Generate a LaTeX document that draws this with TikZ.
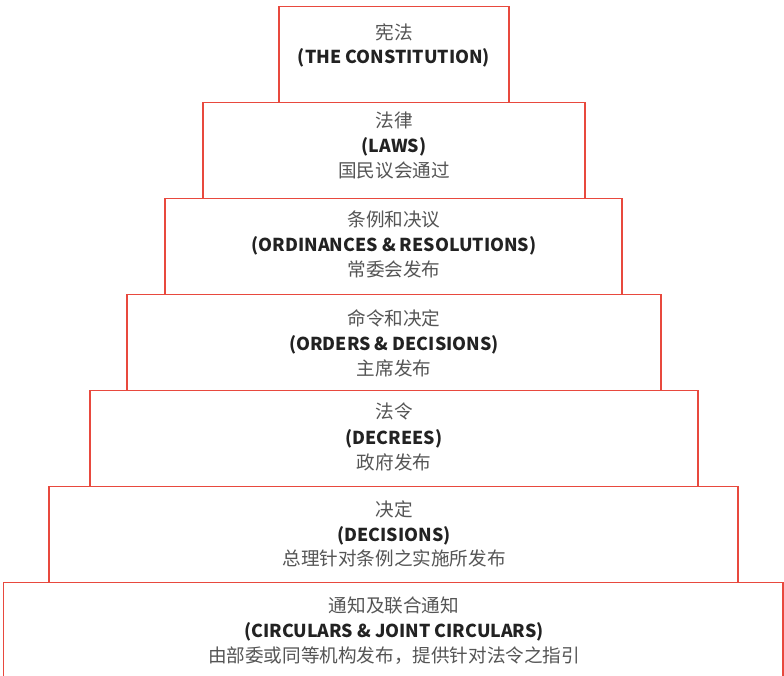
\documentclass[tikz,border=0pt]{standalone}
\usepackage{fontspec}
\setmainfont{Noto Sans CJK SC}
\definecolor{boxred}{HTML}{E8493E}
\definecolor{zhgray}{HTML}{555555}
\definecolor{engdark}{HTML}{222222}
\begin{document}
\begin{tikzpicture}[x=1pt,y=1pt,
  tier/.style={draw=boxred, line width=1.5pt, anchor=north west, inner sep=0pt, outer sep=0pt},
  zh/.style={anchor=base, inner sep=0pt, text=zhgray, font=\fontsize{18.6}{20}\selectfont},
  en/.style={anchor=base, inner sep=0pt, text=engdark, font=\fontsize{17.8}{20}\selectfont\bfseries}]
\useasboundingbox (0,0) rectangle (784,-676);
\clip (0,0) rectangle (784,-676);
\fill[white] (0,0) rectangle (784,-676);
% boxes (bottom to top so upper borders overlay)
\node[tier, minimum width=779.5pt, minimum height=110pt] (b7) at (3.5,-582.5) {};
\node[tier, minimum width=689pt, minimum height=96pt] (b6) at (49,-486.5) {};
\node[tier, minimum width=608pt, minimum height=96pt] (b5) at (90,-390.5) {};
\node[tier, minimum width=534pt, minimum height=96pt] (b4) at (127,-294.5) {};
\node[tier, minimum width=457pt, minimum height=96pt] (b3) at (165,-198.5) {};
\node[tier, minimum width=382pt, minimum height=96pt] (b2) at (203,-102.5) {};
\node[tier, minimum width=230pt, minimum height=96pt] (b1) at (279,-6.5) {};
% texts
\node[zh] (t1a) at (394,-39.5) {宪法};
\node[en] (t1b) at (394,-64) {(THE CONSTITUTION)};
\node[zh] (t2a) at (394,-127.5) {法律};
\node[en] (t2b) at (394,-152.5) {(LAWS)};
\node[zh] (t2c) at (394,-177.5) {国民议会通过};
\node[zh] (t3a) at (394,-226.5) {条例和决议};
\node[en] (t3b) at (394,-251.5) {(ORDINANCES \& RESOLUTIONS)};
\node[zh] (t3c) at (394,-276.5) {常委会发布};
\node[zh] (t4a) at (394,-325.5) {命令和决定};
\node[en] (t4b) at (394,-350.5) {(ORDERS \& DECISIONS)};
\node[zh] (t4c) at (394,-375.5) {主席发布};
\node[zh] (t5a) at (394,-418.5) {法令};
\node[en] (t5b) at (394,-444.5) {(DECREES)};
\node[zh] (t5c) at (394,-469.5) {政府发布};
\node[zh] (t6a) at (394,-516.5) {决定};
\node[en] (t6b) at (394,-541.5) {(DECISIONS)};
\node[zh] (t6c) at (394,-565.5) {总理针对条例之实施所发布};
\node[zh] (t7a) at (394,-612.5) {通知及联合通知};
\node[en] (t7b) at (394,-637.5) {(CIRCULARS \& JOINT CIRCULARS)};
\node[zh] (t7c) at (394,-662.5) {由部委或同等机构发布，提供针对法令之指引};
\end{tikzpicture}
\end{document}
